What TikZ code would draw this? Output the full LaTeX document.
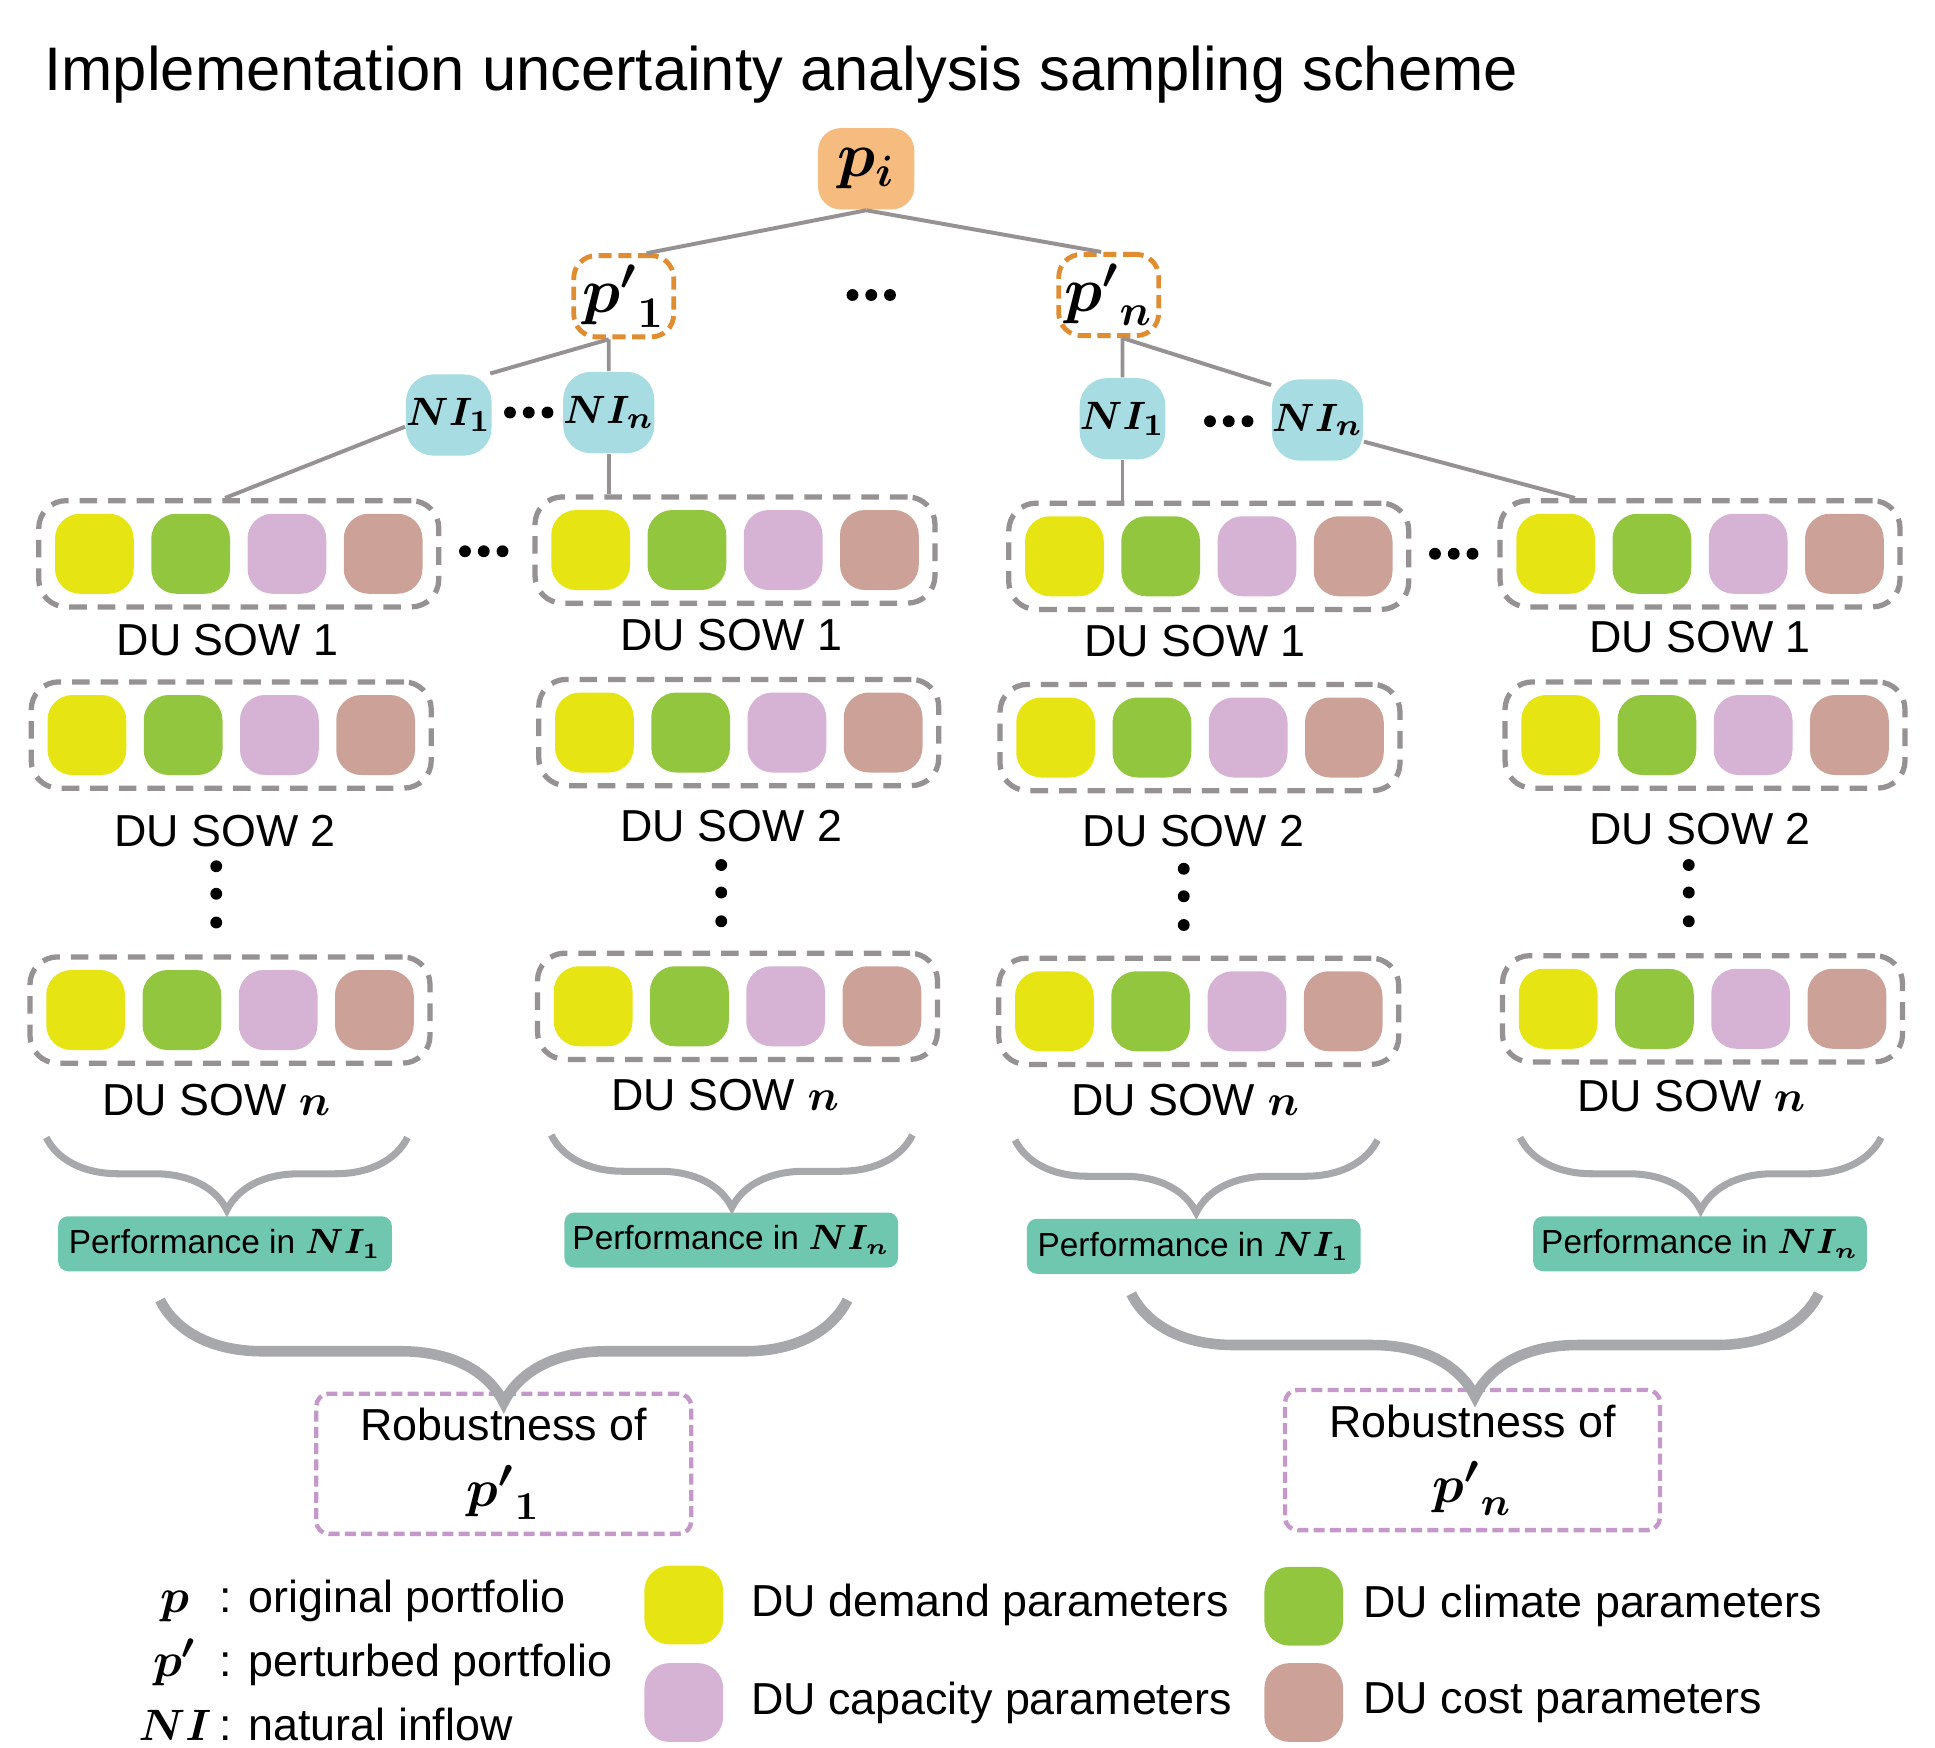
\documentclass[tikz,border=0pt]{standalone}
\usepackage{amsmath}
\usepackage{fontspec}
\setmainfont{Liberation Sans}
\usetikzlibrary{positioning, calc, decorations.pathreplacing}
\definecolor{porange}{RGB}{246, 187, 126}
\definecolor{pdash}{RGB}{224, 140, 48}
\definecolor{nicyan}{RGB}{166, 220, 226}
\definecolor{linegray}{RGB}{150, 146, 147}
\definecolor{boxgray}{RGB}{150, 146, 147}
\definecolor{bracegray}{RGB}{166, 168, 171}
\definecolor{duyellow}{RGB}{230, 228, 18}
\definecolor{dugreen}{RGB}{146, 198, 62}
\definecolor{dupink}{RGB}{214, 178, 212}
\definecolor{dubrown}{RGB}{204, 162, 152}
\definecolor{perfteal}{RGB}{112, 199, 176}
\definecolor{robpurple}{RGB}{196, 152, 200}
\tikzset{
    topnode/.style={
        rectangle, rounded corners=1.8mm, fill=porange, inner sep=0pt,
        minimum width=7.7mm, minimum height=6.5mm, font=\fontsize{14}{16}\selectfont
    },
    pertnode/.style={
        rectangle, rounded corners=1.8mm, draw=pdash, line width=1.1pt,
        dash pattern=on 3pt off 1.5pt, inner sep=0pt,
        minimum width=8mm, minimum height=6.5mm, font=\fontsize{14}{16}\selectfont
    },
    ninode/.style={
        rectangle, rounded corners=2.2mm, fill=nicyan, inner sep=0pt,
        minimum width=6.2mm, minimum height=6.5mm, font=\fontsize{9.5}{11}\selectfont
    },
    sowbox/.style={
        rectangle, rounded corners=2.2mm, draw=boxgray, line width=1.2pt,
        dash pattern=on 4pt off 2.5pt, minimum width=32mm, minimum height=8.5mm
    },
    chip/.style={rectangle, rounded corners=2mm, inner sep=0pt, minimum width=6.3mm, minimum height=6.4mm},
    sowlabel/.style={font=\fontsize{10.2}{12}\selectfont},
    perfbox/.style={
        rectangle, rounded corners=0.8mm, fill=perfteal, inner sep=0pt,
        minimum width=26.7mm, minimum height=4.4mm, font=\fontsize{7.6}{9}\selectfont
    },
    robbox/.style={
        rectangle, rounded corners=1mm, draw=robpurple, line width=1pt,
        dash pattern=on 2.5pt off 1.2pt, minimum width=30mm, minimum height=9.2mm,
        align=center, font=\fontsize{10.2}{12}\selectfont
    },
    link/.style={draw=linegray, line width=0.9pt},
    smallbrace/.style={draw=bracegray, line width=1.6pt, decorate, decoration={brace, mirror, amplitude=5.8mm}},
    bigbrace/.style={draw=bracegray, line width=2.4pt, decorate, decoration={brace, mirror, amplitude=8.2mm}},
    dot/.style={circle, fill=black, inner sep=0pt, minimum size=0.95mm},
    legtext/.style={inner sep=0pt, font=\fontsize{10.2}{12}\selectfont},
}
\begin{document}
\begin{tikzpicture}[x=0.1mm, y=-0.1mm]
    \useasboundingbox (0,0) rectangle (1548,1398);
    \node[anchor=base west, inner sep=0pt, font=\fontsize{14}{16}\selectfont] (title) at (35,72)
        {Implementation uncertainty analysis sampling scheme};

    % portfolio and inflow tree
    \node[topnode] (pi) at (693,135) {$\boldsymbol{p_i}$};
    \node[pertnode] (pone) at (499,237) {$\boldsymbol{{p'}_1}$};
    \node[pertnode] (pen) at (887,236) {$\boldsymbol{{p'}_n}$};
    \node[ninode] (nia) at (359,332) {$\boldsymbol{NI_1}$};
    \node[ninode] (nib) at (487,330) {$\boldsymbol{NI_n}$};
    \node[ninode] (nic) at (898,335) {$\boldsymbol{NI_1}$};
    \node[ninode] (nid) at (1054,336) {$\boldsymbol{NI_n}$};

    % DU SOW boxes
    \foreach \c/\r/\x/\y/\lx/\ly/\t in {
        1/1/191/443/182/512/1, 1/2/185/588/180/665/2, 1/3/184/808/173/880/$\boldsymbol{n}$,
        2/1/588/440/585/508/1, 2/2/591/586/585/661/2, 2/3/590/805/580/876/$\boldsymbol{n}$,
        3/1/967/445/956/513/1, 3/2/960/590/955/665/2, 3/3/959/809/948/880/$\boldsymbol{n}$,
        4/1/1360/443/1360/510/1, 4/2/1364/588/1360/663/2, 4/3/1362/807/1353/877/$\boldsymbol{n}$} {
        \node[sowbox] (sow\c\r) at (\x,\y) {};
        \foreach \col [count=\k] in {duyellow, dugreen, dupink, dubrown}
            \node[chip, fill=\col] (chip\c\r\k) at ($(sow\c\r)+(-115.5+77*\k-77,0)$) {};
        \node[sowlabel] (lab\c\r) at (\lx,\ly) {DU SOW \t};
    }

    % dots
    \foreach \x/\y in {697/236, 423/330, 983/337, 387/441, 1163/443}
        \foreach \d in {-15,0,15}
            \node[dot] at (\x+\d,\y) {};
    \foreach \x/\y in {173/693, 577/692, 947/695, 1351/692}
        \foreach \d in {0,22,45}
            \node[dot] at (\x,\y+\d) {};

    % links
    \draw[link] (pi.south) -- (pone.62);
    \draw[link] (pi.south) -- (pen.100);
    \draw[link] ([xshift=-1.2mm]pone.south) -- (nia.45);
    \draw[link] ([xshift=-1.2mm]pone.south) -- (nib.north);
    \draw[link] ([xshift=1.1mm]pen.south) -- (nic.north);
    \draw[link] ([xshift=1.1mm]pen.south) -- (nid.143);
    \draw[link] (nia.195) -- ([xshift=-1.1mm]sow11.north);
    \draw[link] (nib.south) -- (nib.south |- sow21.north);
    \draw[link] (nic.south) -- (nic.south |- sow31.north);
    \draw[link] (nid.-25) -- ([xshift=-10mm]sow41.north);

    % performance per inflow
    \node[perfbox] (perfa) at (180,995) {Performance in $\boldsymbol{NI_1}$};
    \node[perfbox] (perfb) at (585,992) {Performance in $\boldsymbol{NI_n}$};
    \node[perfbox] (perfc) at (955,997) {Performance in $\boldsymbol{NI_1}$};
    \node[perfbox] (perfd) at (1360,995) {Performance in $\boldsymbol{NI_n}$};
    \foreach \a/\b/\y [count=\i] in {37/326/910, 441/730/908, 812/1102/912, 1216/1505/910} {
        \coordinate (bl\i) at (\a,\y);
        \coordinate (br\i) at (\b,\y);
        \draw[smallbrace] (bl\i) -- (br\i);
    }

    % robustness
    \node[robbox] (roba) at (403,1171) {Robustness of\\[3pt] {\fontsize{12.5}{13}\selectfont$\boldsymbol{{p'}_1}$}};
    \node[robbox] (robb) at (1178,1168) {Robustness of\\[3pt] {\fontsize{12.5}{13}\selectfont$\boldsymbol{{p'}_n}$}};
    \coordinate (bla) at (128,1040);
    \coordinate (bra) at (678,1040);
    \coordinate (blb) at (905,1035);
    \coordinate (brb) at (1455,1035);
    \draw[bigbrace] (bla) -- (bra);
    \draw[bigbrace] (blb) -- (brb);

    % legend
    \node[legtext, anchor=base] (symp) at (140,1290) {\fontsize{11}{13}\selectfont$\boldsymbol{p}$};
    \node[legtext, anchor=base west] (txtp) at (175,1290) {: original portfolio};
    \node[legtext, anchor=base] (sympp) at (140,1341) {\fontsize{11}{13}\selectfont$\boldsymbol{p'}$};
    \node[legtext, anchor=base west] (txtpp) at (175,1341) {: perturbed portfolio};
    \node[legtext, anchor=base] (symni) at (140,1392) {\fontsize{9.8}{12}\selectfont$\boldsymbol{NI}$};
    \node[legtext, anchor=base west] (txtni) at (175,1392) {: natural inflow};

    \node[chip, fill=duyellow, minimum height=6.3mm] (kdemand) at (547,1284) {};
    \node[chip, fill=dupink, minimum height=6.3mm] (kcap) at (547,1362) {};
    \node[chip, fill=dugreen, minimum height=6.3mm] (kclim) at (1043,1285) {};
    \node[chip, fill=dubrown, minimum height=6.3mm] (kcost) at (1043,1362) {};
    \node[legtext, right=2.1mm of kdemand] (ldemand) {DU demand parameters};
    \node[legtext, right=2.1mm of kcap] (lcap) {DU capacity parameters};
    \node[legtext, right=1.5mm of kclim] (lclim) {DU climate parameters};
    \node[legtext, right=1.5mm of kcost] (lcost) {DU cost parameters};
\end{tikzpicture}
\end{document}
